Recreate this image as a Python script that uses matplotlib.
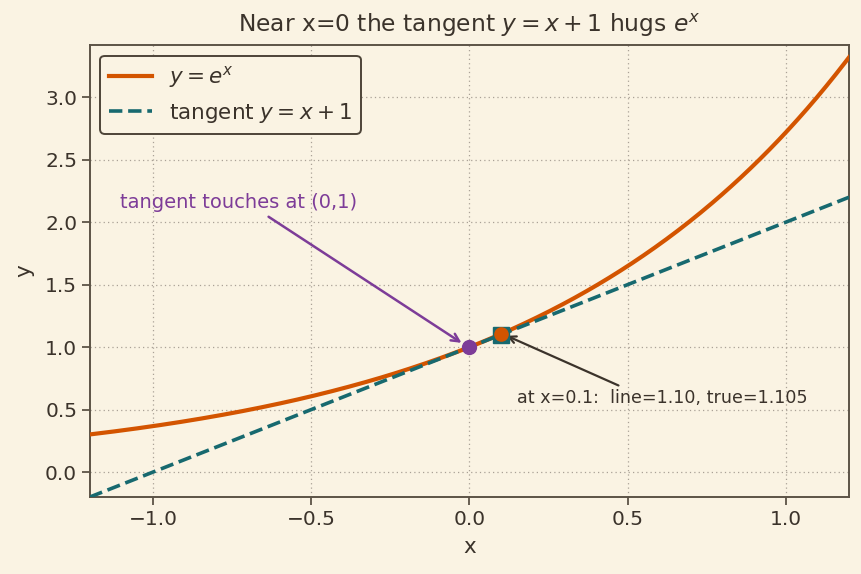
import numpy as np
import matplotlib.pyplot as plt

X_MIN, X_MAX = -1.2, 1.2
Y_MIN, Y_MAX = -0.2, 3.42
TOUCH_PT = (0.0, 1.0)
PROBE_X = 0.1
PROBE_LINE = 1.10
PROBE_TRUE = 1.105

BG = '#faf3e3'
INK = '#3b332b'
ORANGE = '#d35400'
TEAL = '#17696f'
PURPLE = '#7d3c98'

plt.rcParams['font.family'] = ['DejaVu Sans']
plt.rcParams['text.color'] = INK
plt.rcParams['axes.labelcolor'] = INK
plt.rcParams['xtick.color'] = INK
plt.rcParams['ytick.color'] = INK

x = np.linspace(X_MIN, X_MAX, 400)
y_exp = np.exp(x)
y_tan = x + 1

fig = plt.figure(figsize=(8.62, 5.74), dpi=100, facecolor=BG)
ax = fig.add_axes([0.104, 0.134, 0.881, 0.788], facecolor=BG)

ax.plot(x, y_exp, color=ORANGE, lw=3.0, label=r'$y = e^x$', zorder=3)
ax.plot(x, y_tan, color=TEAL, lw=2.6, ls='--', label=r'tangent $y = x + 1$', zorder=3)

ax.plot(*TOUCH_PT, 'o', color=PURPLE, ms=10, zorder=5)
ax.plot(PROBE_X, PROBE_LINE, 's', color=TEAL, ms=11, zorder=5)
ax.plot(PROBE_X, PROBE_TRUE, 'o', color=ORANGE, ms=9.5, zorder=6)

ax.annotate('tangent touches at (0,1)', xy=(TOUCH_PT[0] - 0.01, TOUCH_PT[1] + 0.01),
            xytext=(-1.105, 2.11), color=PURPLE, fontsize=14,
            arrowprops=dict(arrowstyle='->', color=PURPLE, lw=1.8,
                            shrinkA=2, shrinkB=4, relpos=(0.6, 0.0)))
ax.annotate('at x=0.1:  line=1.10, true=1.105', xy=(PROBE_X + 0.01, PROBE_LINE),
            xytext=(0.15, 0.55), color=INK, fontsize=12.6,
            arrowprops=dict(arrowstyle='->', color=INK, lw=1.6,
                            shrinkA=2, shrinkB=2, relpos=(0.38, 1.0)))

ax.set_xlim(X_MIN, X_MAX)
ax.set_ylim(Y_MIN, Y_MAX)
ax.set_xticks([-1.0, -0.5, 0.0, 0.5, 1.0])
ax.set_yticks([0.0, 0.5, 1.0, 1.5, 2.0, 2.5, 3.0])
ax.tick_params(labelsize=14.5, length=5.5, width=1.3, color='#5c5346')
ax.grid(True, ls=(0, (1, 2.5)), color='#aaa196', lw=0.9)
for s in ax.spines.values():
    s.set_color('#5c5346')
    s.set_linewidth(1.4)

ax.set_xlabel('x', fontsize=15.5, labelpad=6)
ax.set_ylabel('y', fontsize=15.5, labelpad=8)
ax.set_title(r'Near x=0 the tangent $y = x + 1$ hugs $e^x$', fontsize=16.8, pad=9)

leg = ax.legend(loc='upper left', fontsize=15.5, facecolor=BG, edgecolor='#4d4438',
                framealpha=1, fancybox=True, handlelength=2.0)
leg.get_frame().set_linewidth(1.4)

fig.savefig('out.png', dpi=100, facecolor=BG)
